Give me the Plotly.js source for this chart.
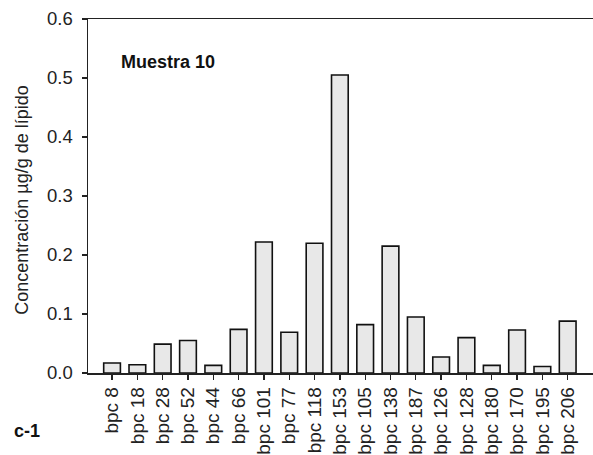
<!DOCTYPE html>
<html>
<head>
<meta charset="utf-8">
<script src="https://cdn.plot.ly/plotly-3.0.1.min.js"></script>
<style>html,body{margin:0;padding:0;background:#fff;}</style>
</head>
<body>
<div id="chart" style="width:593px;height:455px;"></div>
<script>
const categories = ["bpc 8","bpc 18","bpc 28","bpc 52","bpc 44","bpc 66","bpc 101","bpc 77","bpc 118","bpc 153","bpc 105","bpc 138","bpc 187","bpc 126","bpc 128","bpc 180","bpc 170","bpc 195","bpc 206"];
const values = [0.017,0.014,0.049,0.055,0.013,0.074,0.222,0.069,0.220,0.505,0.082,0.215,0.095,0.027,0.060,0.013,0.073,0.011,0.088];
const yTickVals = [0,0.1,0.2,0.3,0.4,0.5,0.6];
const yTickText = ["0.0","0.1","0.2","0.3","0.4","0.5","0.6"];
const yTitle = "Concentración µg/g de lípido";

const font = "Liberation Sans, Arial, Helvetica, sans-serif";

Plotly.newPlot("chart", [{
  type: "bar",
  x: categories,
  y: values,
  width: 0.66,
  marker: {color: "#e8e8e8", line: {color: "#111", width: 1.6}},
  hoverinfo: "none"
}], {
  width: 593, height: 455,
  margin: {l: 88, r: 0, t: 19, b: 82},
  paper_bgcolor: "#fff", plot_bgcolor: "#fff",
  showlegend: false,
  font: {family: font, color: "#222"},
  xaxis: {
    type: "category",
    range: [-0.95, 19.0],
    showline: true, linecolor: "#222", linewidth: 1.5, mirror: true,
    ticks: "outside", ticklen: 5, tickwidth: 1.3, tickcolor: "#222",
    tickangle: -90, tickfont: {size: 19, family: font, color: "#222"},
    showgrid: false, zeroline: false, automargin: false
  },
  yaxis: {
    range: [0, 0.6],
    tickvals: yTickVals, ticktext: yTickText,
    showline: true, linecolor: "#222", linewidth: 1.5,
    ticks: "outside", ticklen: 5, tickwidth: 1.3, tickcolor: "#222",
    ticklabelstandoff: 5,
    tickfont: {size: 18.5, family: font, color: "#222"},
    showgrid: false, zeroline: false, automargin: false
  },
  annotations: [
    {text: yTitle, textangle: -90, xref: "paper", yref: "paper", x: -0.131, y: 0.489, xanchor: "center", yanchor: "middle", showarrow: false, font: {size: 18, family: font, color: "#222"}},
    {text: "<b>Muestra 10</b>", xref: "paper", yref: "paper", x: 0.062, y: 0.878, xanchor: "left", yanchor: "middle", showarrow: false, font: {size: 18, family: font, color: "#111"}},
    {text: "<b>c-1</b>", xref: "paper", yref: "paper", x: -0.15, y: -0.165, xanchor: "left", yanchor: "middle", showarrow: false, font: {size: 18, family: font, color: "#111"}}
  ]
}, {displayModeBar: false, staticPlot: true});
</script>
</body>
</html>
